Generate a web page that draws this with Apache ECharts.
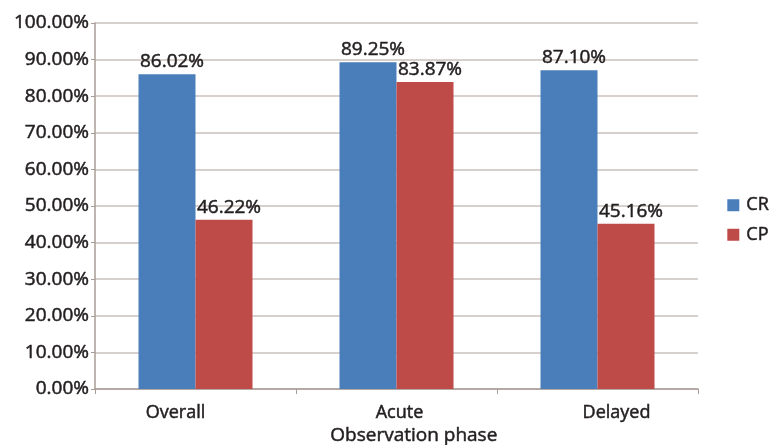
<!DOCTYPE html>
<html>
<head>
<meta charset="utf-8">
<script src="https://cdn.jsdelivr.net/npm/echarts@6/dist/echarts.min.js"></script>
<style>
  html, body { margin: 0; padding: 0; background: #fff; }
  #chart { width: 776px; height: 445px; }
</style>
</head>
<body>
<div id="chart"></div>
<script>
// Observation phases and response rates (%)
const phases = ['Overall', 'Acute', 'Delayed'];
const crValues = [86.02, 89.25, 87.10];
const cpValues = [46.22, 83.87, 45.16];
const seriesNames = ['CR', 'CP'];
const axisName = 'Observation phase';

const FONT = '"Open Sans", "Liberation Sans", sans-serif';
const TEXT = '#231f20';
// a thin outline in the text colour gives the glyphs a slightly heavier weight
const heavy = { textBorderColor: TEXT, textBorderWidth: 0.5 };

const chart = echarts.init(document.getElementById('chart'), null, { renderer: 'canvas' });

const labelOpt = Object.assign({
  show: true,
  position: 'top',
  distance: 3,
  offset: [5, 0],
  color: TEXT,
  fontFamily: FONT,
  fontSize: 19,
  formatter: p => p.value.toFixed(2) + '%'
}, heavy);

const catRich = (pad) => Object.assign({ fontSize: 18, fontFamily: FONT, color: TEXT, padding: pad }, heavy);

chart.setOption({
  animation: false,
  backgroundColor: '#fff',
  textStyle: { fontFamily: FONT },
  grid: { left: 95, right: 78, top: 23, bottom: 56, containLabel: false },
  legend: {
    orient: 'vertical',
    right: 2,
    top: 191,
    itemWidth: 12,
    itemHeight: 12,
    itemGap: 11,
    icon: 'rect',
    textStyle: Object.assign({ color: TEXT, fontFamily: FONT, fontSize: 18, padding: [0, 0, 0, 2] }, heavy),
    data: seriesNames
  },
  xAxis: {
    type: 'category',
    data: phases,
    boundaryGap: true,
    axisLine: { lineStyle: { color: '#a89c97', width: 1.5 } },
    axisTick: { show: true, length: 5, lineStyle: { color: '#a89c97' } },
    axisLabel: {
      interval: 0,
      color: TEXT,
      fontFamily: FONT,
      fontSize: 18,
      margin: 15,
      formatter: v => '{' + v + '|' + v + '}',
      rich: {
        Overall: catRich([0, 40, 0, 0]),
        Acute: catRich([0, 0, 0, 6]),
        Delayed: catRich([0, 0, 0, 38])
      }
    }
  },
  yAxis: {
    type: 'value',
    min: 0,
    max: 100,
    interval: 10,
    axisLine: { show: true, lineStyle: { color: '#a89c97', width: 1.5 } },
    axisTick: { show: true, length: 4, lineStyle: { color: '#a89c97' } },
    splitLine: { lineStyle: { color: '#cbc1bc', width: 1.5 } },
    axisLabel: Object.assign({
      color: TEXT,
      fontFamily: FONT,
      fontSize: 19,
      margin: 6,
      formatter: v => v.toFixed(2) + '%'
    }, heavy)
  },
  graphic: [{
    type: 'text',
    left: 330,
    top: 426,
    style: { text: axisName, fill: TEXT, font: '19px ' + FONT, stroke: TEXT, lineWidth: 0.5 }
  }],
  series: [
    {
      name: seriesNames[0],
      type: 'bar',
      data: crValues,
      barWidth: 57,
      barGap: '0%',
      itemStyle: { color: '#4a7ebb' },
      label: labelOpt
    },
    {
      name: seriesNames[1],
      type: 'bar',
      data: cpValues,
      barWidth: 57,
      barGap: '0%',
      itemStyle: { color: '#be4b48' },
      label: labelOpt
    }
  ]
});
</script>
</body>
</html>
